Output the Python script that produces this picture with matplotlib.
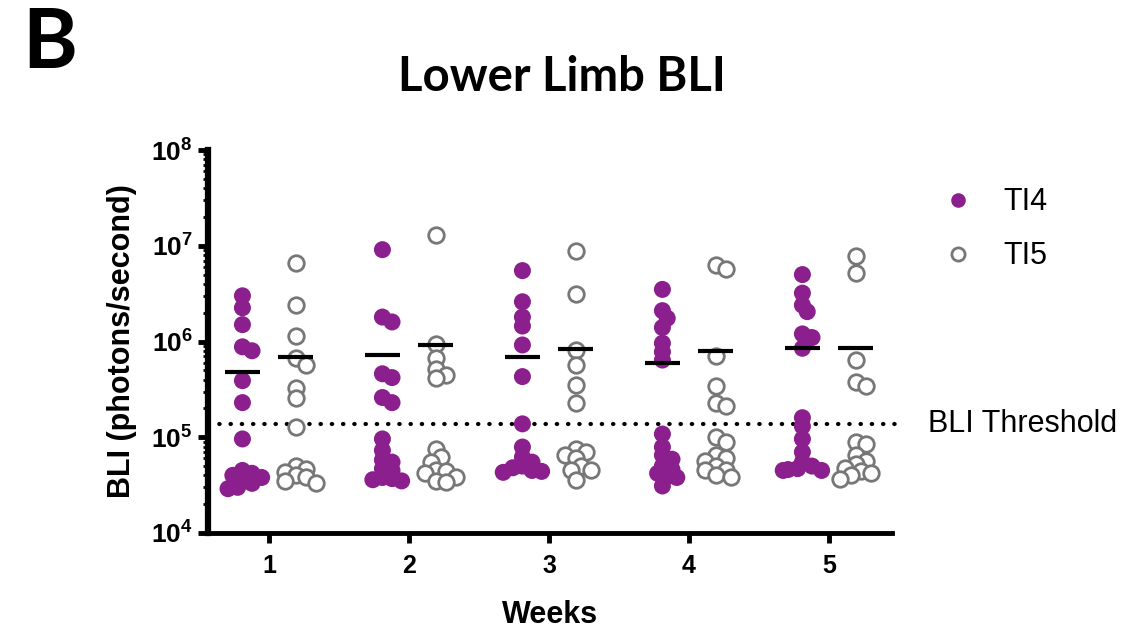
import matplotlib
matplotlib.use("Agg")
from matplotlib import pyplot as plt
from matplotlib.lines import Line2D
import numpy as np

weeks = [1, 2, 3, 4, 5]

ti4 = [
    [3.0e6, 2.25e6, 1.5e6, 8.8e5, 8.0e5, 3.9e5, 2.3e5, 9.6e4, 4.5e4, 4.2e4, 4.0e4, 3.8e4, 3.6e4, 3.3e4, 3.0e4, 2.9e4],
    [9.1e6, 1.8e6, 1.6e6, 4.6e5, 4.2e5, 2.6e5, 2.3e5, 9.6e4, 7.3e4, 5.8e4, 5.5e4, 4.7e4, 4.5e4, 3.8e4, 3.7e4, 3.6e4, 3.5e4],
    [5.5e6, 2.6e6, 1.8e6, 1.45e6, 9.2e5, 4.3e5, 1.38e5, 7.9e4, 6.2e4, 5.5e4, 5.0e4, 4.8e4, 4.5e4, 4.4e4, 4.3e4],
    [3.5e6, 2.1e6, 1.75e6, 1.4e6, 9.6e5, 7.8e5, 6.4e5, 1.08e5, 7.9e4, 6.5e4, 5.9e4, 5.0e4, 4.6e4, 4.2e4, 3.9e4, 3.8e4, 3.1e4],
    [5.0e6, 3.2e6, 2.4e6, 2.05e6, 1.2e6, 1.1e6, 8.5e5, 1.6e5, 1.3e5, 9.6e4, 7.0e4, 5.5e4, 5.0e4, 4.7e4, 4.6e4, 4.5e4, 4.5e4],
]
ti5 = [
    [6.6e6, 2.4e6, 1.15e6, 6.7e5, 5.7e5, 3.3e5, 2.6e5, 1.28e5, 5.0e4, 4.7e4, 4.3e4, 4.0e4, 3.8e4, 3.5e4, 3.3e4],
    [1.3e7, 9.5e5, 6.8e5, 5.2e5, 4.5e5, 4.2e5, 7.5e4, 6.2e4, 5.5e4, 4.6e4, 4.4e4, 4.2e4, 3.8e4, 3.5e4, 3.4e4],
    [8.8e6, 3.1e6, 8.2e5, 5.7e5, 3.5e5, 2.3e5, 7.5e4, 7.0e4, 6.5e4, 6.0e4, 5.0e4, 4.6e4, 4.5e4, 3.6e4],
    [6.3e6, 5.7e6, 7.0e5, 3.4e5, 2.3e5, 2.1e5, 1.0e5, 9.0e4, 6.5e4, 6.0e4, 5.7e4, 5.0e4, 4.6e4, 4.5e4, 4.0e4, 3.8e4],
    [7.8e6, 5.2e6, 6.4e5, 3.8e5, 3.4e5, 9.0e4, 8.5e4, 6.5e4, 5.7e4, 5.2e4, 4.8e4, 4.4e4, 4.2e4, 4.0e4, 3.7e4],
]
ti4_mean = [4.75e5, 7.2e5, 6.9e5, 6.0e5, 8.5e5]
ti5_mean = [6.9e5, 9.2e5, 8.3e5, 8.0e5, 8.6e5]
threshold = 1.36e5

purple = '#8c1f8e'
grey = '#777777'

plt.rcParams['font.family'] = ['Liberation Sans', 'DejaVu Sans']
plt.rcParams['mathtext.fontset'] = 'custom'
plt.rcParams['mathtext.rm'] = 'Liberation Sans'
plt.rcParams['mathtext.bf'] = 'Liberation Sans:bold'

fig = plt.figure(figsize=(11.43, 6.33), dpi=100)
ax = fig.add_axes([208/1143, 1-533/633, (892-208)/1143, (533-150)/633])
ax.set_yscale('log')
ax.set_ylim(1e4, 1e8)
ax.set_xlim(0.564, 5.45)


def swarm(xc, vals, sep):
    # simple beeswarm in pixel space
    pts = ax.transData.transform([(xc, v) for v in vals])
    ppu = ax.transData.transform([(2, 1e5)])[0][0] - ax.transData.transform([(1, 1e5)])[0][0]
    placed = []
    xs = []
    for (px, py) in pts:
        for k in [0, 1, -1, 2, -2, 3, -3, 4, -4]:
            cx = px + k * sep * 0.6
            if all((cx - qx) ** 2 + (py - qy) ** 2 >= sep ** 2 for qx, qy in placed):
                break
        placed.append((cx, py))
        xs.append(xc + (cx - px) / ppu)
    return xs


off = 0.19
for i, w in enumerate(weeks):
    xs4 = swarm(w - off, ti4[i], 8)
    ax.scatter(xs4, ti4[i], s=150, color=purple, edgecolors='none', zorder=3, clip_on=False)
    xs5 = swarm(w + off, ti5[i], 8.5)
    ax.scatter(xs5, ti5[i], s=125, facecolors='white', edgecolors=grey, linewidths=2, zorder=3, clip_on=False)
    ax.hlines(ti4_mean[i], w - off - 0.125, w - off + 0.125, color='black', lw=3, zorder=4)
    ax.hlines(ti5_mean[i], w + off - 0.125, w + off + 0.125, color='black', lw=3, zorder=4)

ax.plot([0.564, 5.52], [threshold, threshold], color='black', lw=3,
        linestyle=(0, (0.1, 2.6)), dash_capstyle='round', clip_on=False, zorder=2)
ax.text(5.707, threshold, 'BLI Threshold', fontsize=22, va='center', ha='left')

for s in ['top', 'right']:
    ax.spines[s].set_visible(False)
ax.spines['left'].set_linewidth(4.5)
ax.spines['bottom'].set_linewidth(3.5)

ax.set_xticks(weeks)
ax.set_xticklabels([str(w) for w in weeks], fontsize=18, fontweight='bold')
ax.tick_params(axis='x', length=7, width=3.5, pad=8)
ax.set_yticks([1e4, 1e5, 1e6, 1e7, 1e8])
ax.set_yticklabels([r'$\mathbf{10^{%d}}$' % e for e in [4, 5, 6, 7, 8]], fontsize=19)
ax.tick_params(axis='y', which='major', length=7, width=3.5, pad=4)
ax.tick_params(axis='y', which='minor', length=3.5, width=2)

ax.set_xlabel('Weeks', fontsize=22, fontweight='bold', labelpad=16)
ax.set_ylabel('BLI (photons/second)', fontsize=22, fontweight='bold', labelpad=10)

handles = [
    Line2D([], [], marker='o', ls='none', color=purple, markersize=10.5, markeredgewidth=0),
    Line2D([], [], marker='o', ls='none', markerfacecolor='white', markeredgecolor=grey,
           markersize=9.5, markeredgewidth=2),
]
fig.legend(handles, ['TI4', 'TI5'], loc='upper left', bbox_to_anchor=(915/1143, 1-160/633),
           frameon=False, fontsize=22, labelspacing=0.78, handletextpad=1.0, handlelength=1.0)

fig.text(562/1143, 1-77/633, 'Lower Limb BLI', fontsize=34, fontweight='bold',
         family='Lato', ha='center', va='center')
fig.text(22/1143, 1-45/633, 'B', fontsize=60, fontweight='bold', family='Lato',
         ha='left', va='center')

fig.savefig('out.png', dpi=100)
